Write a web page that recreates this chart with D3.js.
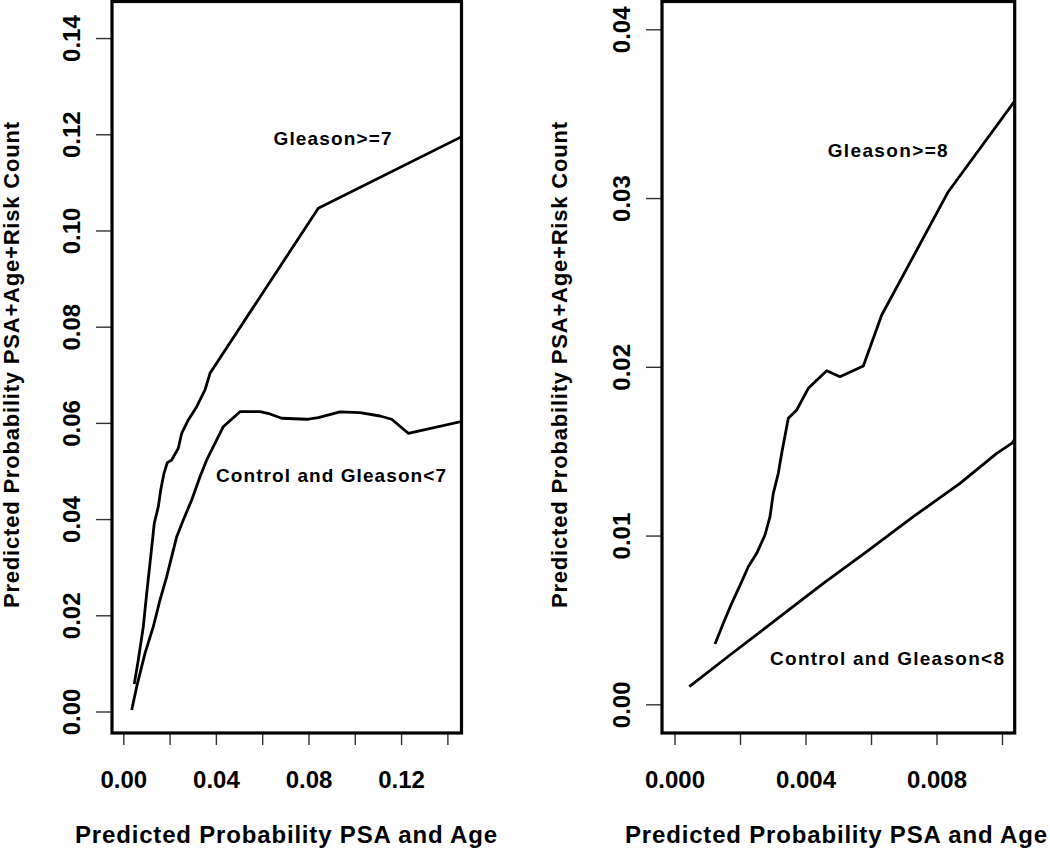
<!DOCTYPE html>
<html>
<head>
<meta charset="utf-8">
<script src="https://cdn.jsdelivr.net/npm/d3@7.9.0/dist/d3.min.js"></script>
<style>
  body { margin: 0; background: #fff; }
  svg { display: block; }
  text { font-family: "Liberation Sans", Arial, sans-serif; font-weight: bold; fill: #000; }
</style>
</head>
<body>
<svg id="chart" width="1050" height="848"></svg>
<script>
// left panel: Gleason >= 7 split
const leftHighX = [0.00475, 0.00648, 0.00864, 0.01011, 0.01184, 0.01339, 0.01512, 0.01616, 0.01758, 0.01901,
  0.02091, 0.02376, 0.02523, 0.02808, 0.03171, 0.03529, 0.03745, 0.08423, 0.14618];
const leftHighY = [0.00572, 0.01071, 0.01763, 0.02457, 0.03218, 0.03913, 0.04258, 0.04605, 0.04952, 0.05173,
  0.05229, 0.05472, 0.05784, 0.06060, 0.06337, 0.06684, 0.07031, 0.10462, 0.11950];

const leftLowX = [0.00363, 0.00579, 0.00937, 0.01296, 0.01585, 0.01875, 0.02091, 0.02307, 0.02592, 0.02955,
  0.03313, 0.03603, 0.03819, 0.04320, 0.05041, 0.05905, 0.06337, 0.06842, 0.07922, 0.08423, 0.09361,
  0.10225, 0.11089, 0.11594, 0.12311, 0.14700];
const leftLowY = [0.00031, 0.00516, 0.01210, 0.01763, 0.02318, 0.02802, 0.03218, 0.03634, 0.03981, 0.04397,
  0.04881, 0.05229, 0.05437, 0.05921, 0.06233, 0.06233, 0.06185, 0.06096, 0.06075, 0.06108, 0.06227,
  0.06212, 0.06143, 0.06075, 0.05784, 0.06040];

// right panel: Gleason >= 8 split
const rightHighX = [0.001237, 0.00149, 0.001747, 0.002052, 0.002253, 0.00251, 0.002763, 0.002916, 0.003017,
  0.003169, 0.003273, 0.003475, 0.003731, 0.004085, 0.004647, 0.005053, 0.005765, 0.006327, 0.00836, 0.010449];
const rightHighY = [0.003573, 0.0048, 0.005985, 0.007265, 0.008154, 0.008948, 0.010033, 0.011117, 0.012504,
  0.013689, 0.014874, 0.016948, 0.01744, 0.018726, 0.019769, 0.019413, 0.020047, 0.02307, 0.030376, 0.035911];

const rightLowX = [0.000452, 0.001695, 0.003221, 0.004544, 0.005869, 0.007292, 0.008718, 0.009838, 0.010296, 0.010449];
const rightLowY = [0.001043, 0.002921, 0.005191, 0.00717, 0.009043, 0.011117, 0.013096, 0.014874, 0.015467, 0.015858];

const leftXTicks = [0, 0.02, 0.04, 0.06, 0.08, 0.10, 0.12, 0.14];
const leftXLabels = ['0.00', '', '0.04', '', '0.08', '', '0.12', ''];
const leftYTicks = [0, 0.02, 0.04, 0.06, 0.08, 0.10, 0.12, 0.14];
const leftYLabels = ['0.00', '0.02', '0.04', '0.06', '0.08', '0.10', '0.12', '0.14'];

const rightXTicks = [0, 0.002, 0.004, 0.006, 0.008, 0.010];
const rightXLabels = ['0.000', '', '0.004', '', '0.008', ''];
const rightYTicks = [0, 0.01, 0.02, 0.03, 0.04];
const rightYLabels = ['0.00', '0.01', '0.02', '0.03', '0.04'];

const xTitle = 'Predicted Probability PSA and Age';
const yTitle = 'Predicted Probability PSA+Age+Risk Count';

const svg = d3.select('#chart');

const zip = (xs, ys) => xs.map((x, i) => [x, ys[i]]);

const panels = [
  {
    id: 'left',
    box: { left: 112, right: 461.5, top: 1.5, bottom: 733 },
    xDomain: [-0.00488, 0.1461],
    yDomain: [-0.00447, 0.1476],
    series: [zip(leftHighX, leftHighY), zip(leftLowX, leftLowY)],
    xTicks: leftXTicks, xLabels: leftXLabels,
    yTicks: leftYTicks, yLabels: leftYLabels,
    yTitleX: 19,
    xTitleX: 286,
    notes: [
      { text: 'Gleason>=7', x: 332.5, y: 145, len: 118 },
      { text: 'Control and Gleason<7', x: 331, y: 481.5, len: 230 }
    ]
  },
  {
    id: 'right',
    box: { left: 662, right: 1014.7, top: 1.5, bottom: 733 },
    xDomain: [-0.000382, 0.010388],
    yDomain: [-0.0017, 0.041647],
    series: [zip(rightHighX, rightHighY), zip(rightLowX, rightLowY)],
    xTicks: rightXTicks, xLabels: rightXLabels,
    yTicks: rightYTicks, yLabels: rightYLabels,
    yTitleX: 567,
    xTitleX: 836,
    notes: [
      { text: 'Gleason>=8', x: 887.7, y: 157, len: 120 },
      { text: 'Control and Gleason<8', x: 887, y: 665, len: 234 }
    ]
  }
];

panels.forEach(drawPanel);

function drawPanel(p) {
  let b = p.box;
  let x = d3.scaleLinear().domain(p.xDomain).range([b.left, b.right]);
  let y = d3.scaleLinear().domain(p.yDomain).range([b.bottom, b.top]);

  svg.append('clipPath').attr('id', `clip-${p.id}`)
    .append('rect')
    .attr('x', b.left).attr('y', b.top)
    .attr('width', b.right - b.left).attr('height', b.bottom - b.top);

  let line = d3.line().x((d) => x(d[0])).y((d) => y(d[1]));

  p.series.forEach((s) => {
    svg.append('path')
      .attr('d', line(s))
      .attr('fill', 'none')
      .attr('stroke', '#000')
      .attr('stroke-width', 2.8)
      .attr('stroke-linejoin', 'round')
      .attr('clip-path', `url(#clip-${p.id})`);
  });

  // x axis
  let xAxis = svg.append('g')
    .attr('transform', `translate(0,${b.bottom})`)
    .call(d3.axisBottom(x).tickValues(p.xTicks).tickSize(12)
      .tickFormat((d, i) => p.xLabels[i]));
  xAxis.select('.domain').remove();
  xAxis.selectAll('line').attr('stroke', '#333').attr('stroke-width', 1.4);
  xAxis.selectAll('text')
    .attr('y', 55).attr('dy', 0)
    .attr('font-size', 24)
    .attr('font-family', null);

  // y axis
  let yAxis = svg.append('g')
    .attr('transform', `translate(${b.left},0)`)
    .call(d3.axisLeft(y).tickValues(p.yTicks).tickSize(16)
      .tickFormat((d, i) => p.yLabels[i]));
  yAxis.select('.domain').remove();
  yAxis.selectAll('line').attr('stroke', '#333').attr('stroke-width', 1.4);
  yAxis.selectAll('text')
    .attr('x', 0).attr('y', 0).attr('dy', 0)
    .attr('transform', 'translate(-32,0) rotate(-90)')
    .attr('text-anchor', 'middle')
    .attr('font-size', 24)
    .attr('font-family', null);

  svg.append('rect')
    .attr('x', b.left).attr('y', b.top)
    .attr('width', b.right - b.left).attr('height', b.bottom - b.top)
    .attr('fill', 'none')
    .attr('stroke', '#000')
    .attr('stroke-width', 3.2);

  svg.append('text')
    .attr('x', p.xTitleX).attr('y', 843)
    .attr('text-anchor', 'middle')
    .attr('font-size', 24)
    .attr('textLength', 422)
    .attr('lengthAdjust', 'spacing')
    .text(xTitle);

  svg.append('text')
    .attr('transform', `translate(${p.yTitleX},365) rotate(-90)`)
    .attr('text-anchor', 'middle')
    .attr('font-size', 22)
    .attr('textLength', 486)
    .attr('lengthAdjust', 'spacing')
    .text(yTitle);

  p.notes.forEach((n) => {
    svg.append('text')
      .attr('x', n.x).attr('y', n.y)
      .attr('text-anchor', 'middle')
      .attr('font-size', 19)
      .attr('textLength', n.len)
      .attr('lengthAdjust', 'spacing')
      .text(n.text);
  });
}
</script>
</body>
</html>
